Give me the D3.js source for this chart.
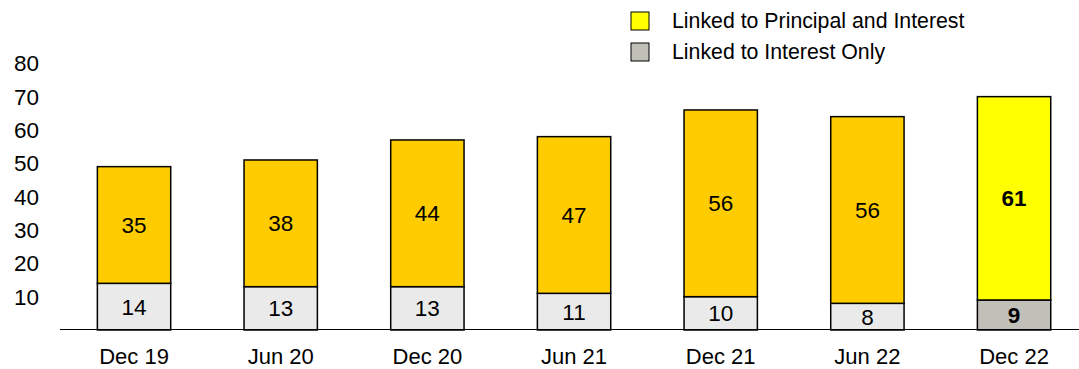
<!DOCTYPE html>
<html><head><meta charset="utf-8">
<script src="https://cdn.jsdelivr.net/npm/d3@7"></script>
<style>body{margin:0;background:#fff}svg{display:block;font-family:Arial,"Liberation Sans",sans-serif}</style>
</head><body><svg id="c" width="1079" height="369"></svg>
<script>
const categories = ["Dec 19","Jun 20","Dec 20","Jun 21","Dec 21","Jun 22","Dec 22"];
const interestOnly = [14,13,13,11,10,8,9];
const principalInterest = [35,38,44,47,56,56,61];
const yTicks = [10,20,30,40,50,60,70,80];
const seriesNames = ["Linked to Principal and Interest","Linked to Interest Only"];

const svg = d3.select("#c");
const x = d3.scaleBand().domain(categories).range([60.7,1087.4]).paddingInner(0.5).paddingOuter(0.25);
const y = d3.scaleLinear().domain([0,80]).range([330,63.3]);
const FS = 22.5;

const colIO = (i)=> i===categories.length-1 ? "#c0c0b8" : "#eaeaea";
const colPI = (i)=> i===categories.length-1 ? "#ffff00" : "#ffcc00";

// y tick labels
svg.append("g").selectAll("text").data(yTicks).join("text")
  .attr("x",39).attr("y",d=>y(d)).attr("dy","0.35em").attr("text-anchor","end")
  .attr("font-size",FS).attr("fill","#000").text(d=>d);

const data = categories.map((c,i)=>({c,i,io:interestOnly[i],pi:principalInterest[i]}));
const g = svg.append("g");
g.selectAll("rect.io").data(data).join("rect").attr("class","io")
  .attr("x",d=>x(d.c)).attr("width",x.bandwidth())
  .attr("y",d=>y(d.io)).attr("height",d=>y(0)-y(d.io))
  .attr("fill",d=>colIO(d.i)).attr("stroke","#000").attr("stroke-width",1.5);
g.selectAll("rect.pi").data(data).join("rect").attr("class","pi")
  .attr("x",d=>x(d.c)).attr("width",x.bandwidth())
  .attr("y",d=>y(d.io+d.pi)).attr("height",d=>y(d.io)-y(d.io+d.pi))
  .attr("fill",d=>colPI(d.i)).attr("stroke","#000").attr("stroke-width",1.5);

// baseline
svg.append("line").attr("x1",60).attr("x2",1079).attr("y1",y(0)-0.5).attr("y2",y(0)-0.5)
  .attr("stroke","#000").attr("stroke-width",1.2);

// value labels
const last = categories.length-1;
g.selectAll("text.io").data(data).join("text")
  .attr("x",d=>x(d.c)+x.bandwidth()/2).attr("y",d=>(y(0)+y(d.io))/2).attr("dy","0.35em")
  .attr("text-anchor","middle").attr("font-size",FS).attr("font-weight",d=>d.i===last?"bold":"normal")
  .text(d=>d.io);
g.selectAll("text.pi").data(data).join("text")
  .attr("x",d=>x(d.c)+x.bandwidth()/2).attr("y",d=>(y(d.io)+y(d.io+d.pi))/2).attr("dy","0.35em")
  .attr("text-anchor","middle").attr("font-size",FS).attr("font-weight",d=>d.i===last?"bold":"normal")
  .text(d=>d.pi);

// x labels
svg.append("g").selectAll("text").data(categories).join("text")
  .attr("x",d=>x(d)+x.bandwidth()/2).attr("y",356).attr("dy","0.35em")
  .attr("text-anchor","middle").attr("font-size",22).text(d=>d);

// legend
const legCols = ["#ffff00","#c0c0b8"];
const lg = svg.append("g").attr("transform","translate(631,12)");
seriesNames.forEach((n,i)=>{
  lg.append("rect").attr("x",0).attr("y",i*31).attr("width",18).attr("height",18)
    .attr("fill",legCols[i]).attr("stroke","#000").attr("stroke-width",1);
  lg.append("text").attr("x",41).attr("y",i*31+9).attr("dy","0.35em").attr("font-size",21.3).text(n);
});
</script></body></html>
